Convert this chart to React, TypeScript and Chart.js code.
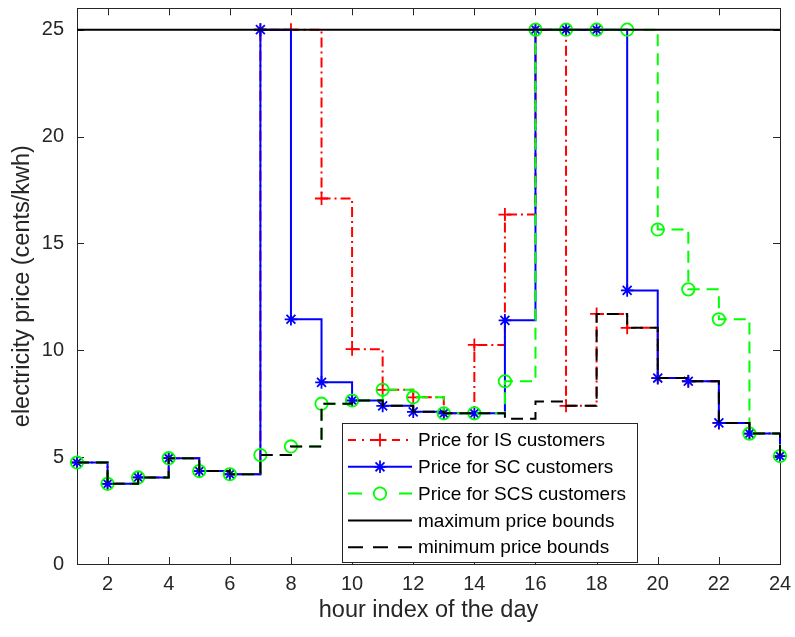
import React, { useEffect, useRef } from 'react';
import { Chart, registerables } from 'chart.js';

Chart.register(...registerables);

const hours = [1, 2, 3, 4, 5, 6, 7, 8, 9, 10, 11, 12, 13, 14, 15, 16, 17, 18, 19, 20, 21, 22, 23, 24];
const xTickValues = [2, 4, 6, 8, 10, 12, 14, 16, 18, 20, 22, 24];
const yTickValues = [0, 5, 10, 15, 20, 25];

const priceIS = [4.75, 3.75, 4.05, 4.95, 4.35, 4.2, 25, 25, 17.1, 10.05, 8.15, 7.8, 7.05, 10.25, 16.35, 25, 7.4, 11.7, 11.05, 8.7, 8.55, 6.6, 6.1, 5.05];
const priceSC = [4.75, 3.75, 4.05, 4.95, 4.35, 4.2, 25, 11.45, 8.5, 7.65, 7.4, 7.12, 7.05, 7.05, 11.4, 25, 25, 25, 12.8, 8.7, 8.55, 6.6, 6.1, 5.05];
const priceSCS = [4.75, 3.75, 4.05, 4.95, 4.35, 4.2, 5.1, 5.5, 7.5, 7.65, 8.15, 7.8, 7.05, 7.05, 8.55, 25, 25, 25, 25, 15.65, 12.85, 11.45, 6.1, 5.05];
const maxBound = [25, 25, 25, 25, 25, 25, 25, 25, 25, 25, 25, 25, 25, 25, 25, 25, 25, 25, 25, 25, 25, 25, 25, 25];
const minBound = [4.75, 3.75, 4.05, 4.95, 4.35, 4.2, 5.1, 5.5, 7.5, 7.65, 7.4, 7.12, 7.05, 7.05, 6.8, 7.6, 7.4, 11.7, 11.05, 8.7, 8.55, 6.6, 6.1, 5.05];

const FONT = "'Liberation Sans', Arial, Helvetica, sans-serif";
const AXIS_COLOR = '#262626';

const toPoints = (vals: number[]) => hours.map((h, i) => ({ x: h, y: vals[i] }));

function drawMarker(ctx: CanvasRenderingContext2D, style: string, x: number, y: number, r: number, color: string, lw: number) {
  ctx.save();
  ctx.setLineDash([]);
  ctx.strokeStyle = color;
  ctx.lineWidth = lw;
  ctx.beginPath();
  if (style === 'circle') {
    ctx.arc(x, y, r, 0, Math.PI * 2);
  } else if (style === 'cross') {
    ctx.moveTo(x - r, y); ctx.lineTo(x + r, y);
    ctx.moveTo(x, y - r); ctx.lineTo(x, y + r);
  } else if (style === 'star') {
    const d = r * Math.SQRT1_2;
    ctx.moveTo(x - r, y); ctx.lineTo(x + r, y);
    ctx.moveTo(x, y - r); ctx.lineTo(x, y + r);
    ctx.moveTo(x - d, y - d); ctx.lineTo(x + d, y + d);
    ctx.moveTo(x - d, y + d); ctx.lineTo(x + d, y - d);
  }
  ctx.stroke();
  ctx.restore();
}

const matlabFrame = {
  id: 'matlabFrame',
  beforeDatasetsDraw(chart: any) {
    const { ctx, chartArea } = chart;
    const { left, right, top, bottom } = chartArea;
    const xs = chart.scales.x;
    const ys = chart.scales.y;
    const tl = 7;
    ctx.save();
    ctx.strokeStyle = AXIS_COLOR;
    ctx.lineWidth = 1;
    ctx.strokeRect(Math.round(left) + 0.5, Math.round(top) + 0.5, Math.round(right - left), Math.round(bottom - top));
    ctx.beginPath();
    xTickValues.forEach((v) => {
      const px = Math.round(xs.getPixelForValue(v)) + 0.5;
      ctx.moveTo(px, bottom); ctx.lineTo(px, bottom - tl);
      ctx.moveTo(px, top); ctx.lineTo(px, top + tl);
    });
    yTickValues.forEach((v) => {
      const py = Math.round(ys.getPixelForValue(v)) + 0.5;
      ctx.moveTo(left, py); ctx.lineTo(left + tl, py);
      ctx.moveTo(right, py); ctx.lineTo(right - tl, py);
    });
    ctx.stroke();
    ctx.restore();
  },
  afterDatasetsDraw(chart: any) {
    const { ctx } = chart;
    const bx = 342.5, by = 423.5, bw = 295, bh = 139;
    ctx.save();
    ctx.fillStyle = '#ffffff';
    ctx.fillRect(bx, by, bw, bh);
    ctx.strokeStyle = AXIS_COLOR;
    ctx.lineWidth = 1;
    ctx.strokeRect(bx, by, bw, bh);
    ctx.font = `19px ${FONT}`;
    ctx.textBaseline = 'middle';
    ctx.textAlign = 'left';
    chart.data.datasets.forEach((ds: any, i: number) => {
      const y = 440 + i * 26.8;
      ctx.save();
      ctx.strokeStyle = ds.borderColor;
      ctx.lineWidth = ds.borderWidth;
      ctx.setLineDash(ds.legendDash || ds.borderDash || []);
      ctx.beginPath();
      ctx.moveTo(348, y);
      ctx.lineTo(412, y);
      ctx.stroke();
      ctx.restore();
      if (ds.pointRadius > 0) {
        drawMarker(ctx, ds.pointStyle, 380, y, ds.pointRadius, ds.borderColor, ds.pointBorderWidth);
      }
      ctx.fillStyle = '#000000';
      ctx.fillText(ds.label, 418, y + 1);
    });
    ctx.restore();
  },
};

export default function App() {
  const ref = useRef<HTMLCanvasElement | null>(null);

  useEffect(() => {
    if (!ref.current) return;
    const common = { stepped: 'before', fill: false, clip: false, borderWidth: 2, pointBorderWidth: 1.8, pointHoverRadius: 0 };
    const chart = new Chart(ref.current, {
      type: 'line',
      data: {
        datasets: [
          {
            ...common,
            label: 'Price for IS customers',
            data: toPoints(priceIS),
            borderColor: '#ff0000',
            borderDash: [10, 4, 2, 4],
            legendDash: [8, 6, 2, 6],
            pointStyle: 'cross',
            pointRadius: 6.5,
            pointBorderColor: '#ff0000',
            pointBackgroundColor: 'rgba(0,0,0,0)',
            order: 5,
          } as any,
          {
            ...common,
            label: 'Price for SC customers',
            data: toPoints(priceSC),
            borderColor: '#0000ff',
            borderDash: [],
            pointStyle: 'star',
            pointRadius: 6.3,
            pointBorderColor: '#0000ff',
            pointBackgroundColor: 'rgba(0,0,0,0)',
            order: 4,
          } as any,
          {
            ...common,
            label: 'Price for SCS customers',
            data: toPoints(priceSCS),
            borderColor: '#00ff00',
            borderDash: [12, 7],
            legendDash: [14, 37],
            pointStyle: 'circle',
            pointRadius: 6.2,
            pointBorderColor: '#00ff00',
            pointBackgroundColor: 'rgba(0,0,0,0)',
            order: 3,
          } as any,
          {
            ...common,
            label: 'maximum price bounds',
            data: toPoints(maxBound),
            borderColor: '#000000',
            borderDash: [],
            pointRadius: 0,
            order: 2,
          } as any,
          {
            ...common,
            label: 'minimum price bounds',
            data: toPoints(minBound),
            borderColor: '#000000',
            borderDash: [12, 7],
            legendDash: [15, 10],
            pointRadius: 0,
            order: 1,
          } as any,
        ],
      },
      options: {
        animation: false,
        responsive: false,
        devicePixelRatio: 1,
        events: [],
        layout: { padding: { top: 7, right: 15, left: 0, bottom: 0 } },
        plugins: { legend: { display: false }, tooltip: { enabled: false } },
        scales: {
          x: {
            type: 'linear',
            min: 1,
            max: 24,
            afterBuildTicks: (s: any) => { s.ticks = xTickValues.map((v) => ({ value: v })); },
            afterFit: (s: any) => { s.height = 73; s.paddingLeft = 0; s.paddingRight = 0; },
            grid: { display: false, drawTicks: false },
            border: { display: false },
            ticks: { font: { family: FONT, size: 20 }, color: AXIS_COLOR, padding: 8, maxRotation: 0, autoSkip: false },
            title: { display: true, text: 'hour index of the day', font: { family: FONT, size: 23.5 }, color: AXIS_COLOR, padding: { top: 0, bottom: 12 } },
          },
          y: {
            type: 'linear',
            min: 0,
            max: 26,
            afterBuildTicks: (s: any) => { s.ticks = yTickValues.map((v) => ({ value: v })); },
            afterFit: (s: any) => { s.width = 77; s.paddingTop = 0; s.paddingBottom = 0; },
            grid: { display: false, drawTicks: false },
            border: { display: false },
            ticks: { font: { family: FONT, size: 20 }, color: AXIS_COLOR, padding: 13 },
            title: { display: true, text: 'electricity price (cents/kwh)', font: { family: FONT, size: 23.5 }, color: AXIS_COLOR, padding: { top: 8, bottom: 0 } },
          },
        },
      } as any,
      plugins: [matlabFrame],
    });
    return () => chart.destroy();
  }, []);

  return (
    <div style={{ position: 'absolute', left: 0, top: 0, width: 795, height: 637, background: '#ffffff' }}>
      <canvas ref={ref} width={795} height={637} />
    </div>
  );
}
